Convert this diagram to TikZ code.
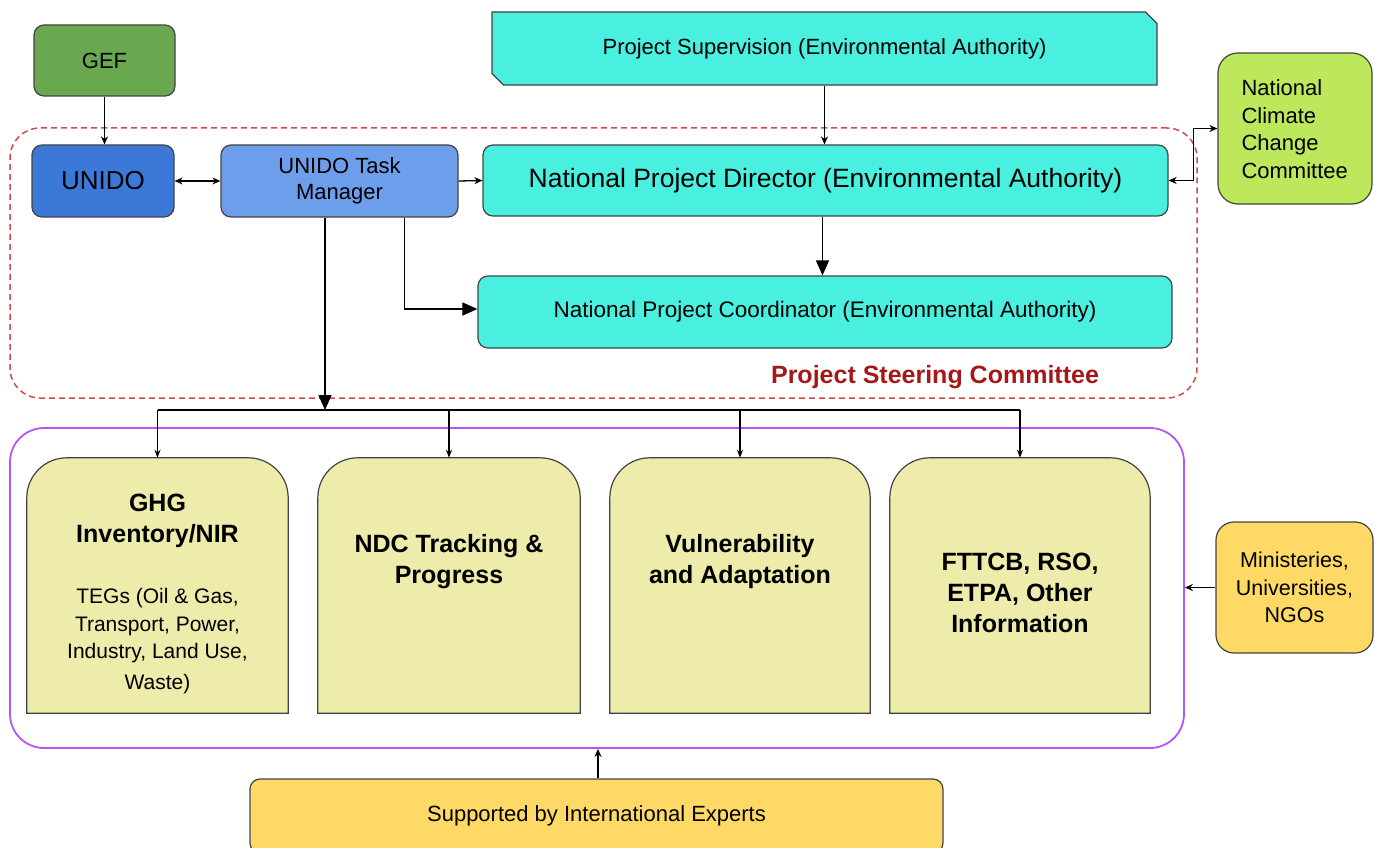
\documentclass[tikz,border=0pt]{standalone}
\usepackage{fontspec}
\setmainfont{Liberation Sans}
\usetikzlibrary{arrows.meta,shapes.misc}

\definecolor{gefgreen}{HTML}{6AA84F}
\definecolor{unidoblue}{HTML}{3C78D8}
\definecolor{tmblue}{HTML}{6D9EEB}
\definecolor{authcyan}{HTML}{4AF0DF}
\definecolor{nccgreen}{HTML}{BDE85C}
\definecolor{paleyellow}{HTML}{EEECAA}
\definecolor{supyellow}{HTML}{FFD966}
\definecolor{boxline}{HTML}{434343}
\definecolor{dashred}{HTML}{CC4B4B}
\definecolor{pscred}{HTML}{A61818}
\definecolor{wgpurple}{HTML}{B256FA}

\tikzset{
  box/.style={draw=boxline,line width=1.2pt,rounded corners=10pt,inner sep=0pt,align=center},
  pane/.style={inner sep=0pt,minimum width=#1,minimum height=255pt},
  title/.style={align=center,font=\bfseries\fontsize{25}{31}\selectfont},
  conn/.style={line width=1.3pt},
  big/.style={conn,-{Triangle[length=15pt,width=13pt]}}
}

\begin{document}
\begin{tikzpicture}[x=1pt,y=-1pt,>={Stealth[length=8pt,width=7pt]}]
    \useasboundingbox (0,0) rectangle (1374,848);

    % committee and working group frames
    \node[draw=dashred,line width=1.5pt,dash pattern=on 6pt off 4pt,rounded corners=30pt,
          minimum width=1187pt,minimum height=270pt] (psc) at (603.5,263) {};
    \node[text=pscred,font=\bfseries\fontsize{25}{30}\selectfont] (psclabel) at (935,377) {Project Steering Committee};
    \node[draw=wgpurple,line width=1.8pt,rounded corners=34pt,
          minimum width=1174pt,minimum height=320pt] (wg) at (597,588) {};

    % top row
    \node[box,fill=gefgreen,minimum width=141pt,minimum height=71pt,font=\fontsize{22}{26}\selectfont] (gef) at (104.5,60.5) {GEF};
    \node[box,fill=unidoblue,minimum width=142pt,minimum height=72pt,font=\fontsize{26}{30}\selectfont] (unido) at (103,181) {UNIDO};
    \node[box,fill=tmblue,minimum width=237pt,minimum height=72pt,font=\fontsize{22}{26}\selectfont] (tm) at (339.5,181) {UNIDO Task\\Manager};
    \node[draw=boxline,line width=1.2pt,fill=authcyan,chamfered rectangle,chamfered rectangle corners={north east,south west},
          chamfered rectangle xsep=8pt,inner sep=0pt,minimum width=665pt,minimum height=73pt,
          font=\fontsize{22}{26}\selectfont] (sup) at (824.5,48.5) {Project Supervision (Environmental Authority)};
    \node[box,fill=authcyan,minimum width=685pt,minimum height=71pt,font=\fontsize{26.5}{30}\selectfont] (npd) at (825.5,180.5) {National Project Director (Environmental Authority)};
    \node[box,fill=authcyan,minimum width=694pt,minimum height=72pt,font=\fontsize{22.5}{26}\selectfont] (npc) at (825,312) {National Project Coordinator (Environmental Authority)};
    \node[box,fill=nccgreen,rounded corners=20pt,minimum width=154pt,minimum height=151pt] (ncc) at (1295,128.5) {};
    \node[align=left,anchor=west,font=\fontsize{22}{27.5}\selectfont] (ncctext) at (1238,129) {National\\Climate\\Change\\Committee};

    % thematic panes
    \node[pane=261pt] (ghg) at (157.5,585.5) {};
    \node[pane=262pt] (ndc) at (449,585.5) {};
    \node[pane=260pt] (vul) at (740,585.5) {};
    \node[pane=260pt] (fttcb) at (1020,585.5) {};
    \foreach \b in {ghg,ndc,vul,fttcb}
        \filldraw[fill=paleyellow,draw=boxline,line width=1.2pt] (\b.south west) -- ([yshift=-40pt]\b.north west)
            arc[start angle=180,end angle=90,radius=40pt] -- ([xshift=-40pt]\b.north east)
            arc[start angle=90,end angle=0,radius=40pt] -- (\b.south east) -- cycle;
    \node[title] (ghgtitle) at (157.5,521) {GHG\\Inventory/NIR};
    \node[align=center,font=\fontsize{21}{27.5}\selectfont] (ghgtext) at (157.5,641) {TEGs (Oil \& Gas,\\Transport, Power,\\Industry, Land Use,\\[3pt]Waste)};
    \node[title] (ndctitle) at (449,562) {NDC Tracking \&\\Progress};
    \node[title] (vultitle) at (740,562) {Vulnerability\\and Adaptation};
    \node[title] (fttcbtitle) at (1020,593) {FTTCB, RSO,\\ETPA, Other\\Information};

    \node[box,fill=supyellow,rounded corners=18pt,minimum width=157pt,minimum height=131pt,
          font=\fontsize{21.5}{27.5}\selectfont] (min) at (1294.5,587.5) {Ministeries,\\Universities,\\NGOs};
    \node[box,fill=supyellow,minimum width=693pt,minimum height=74pt,font=\fontsize{22}{26}\selectfont] (sie) at (596.5,816) {Supported by International Experts};

    % connectors
    \draw[conn,->] (gef.south) -- (gef.south |- unido.north);
    \draw[conn,<->] (unido.east) -- (tm.west);
    \draw[conn,->] (tm.east) -- (npd.west);
    \draw[conn,->] (sup.south) -- (sup.south |- npd.north);
    \draw[big] ([xshift=-3pt]npd.south) -- ([xshift=-3pt]npd.south |- npc.north);
    \draw[big] ([xshift=65pt]tm.south) |- ([yshift=3pt]npc.west);
    \draw[conn,<->] (npd.east) -- ++(25,0) |- (ncc.west);

    \coordinate (hub) at (325,410);
    \draw[big] ([xshift=-14.5pt]tm.south) -- (hub);
    \draw[conn] (ghg.north |- hub) -- (fttcb.north |- hub);
    \foreach \b in {ghg,ndc,vul,fttcb}
        \draw[conn,-{Stealth[length=8pt,width=6pt]}] (\b.north |- hub) -- (\b.north);

    \draw[conn,->] (min.west) -- (min.west -| wg.east);
    \draw[conn,->] ([xshift=1.5pt]sie.north) -- ([xshift=1.5pt]sie.north |- wg.south);
\end{tikzpicture}
\end{document}
